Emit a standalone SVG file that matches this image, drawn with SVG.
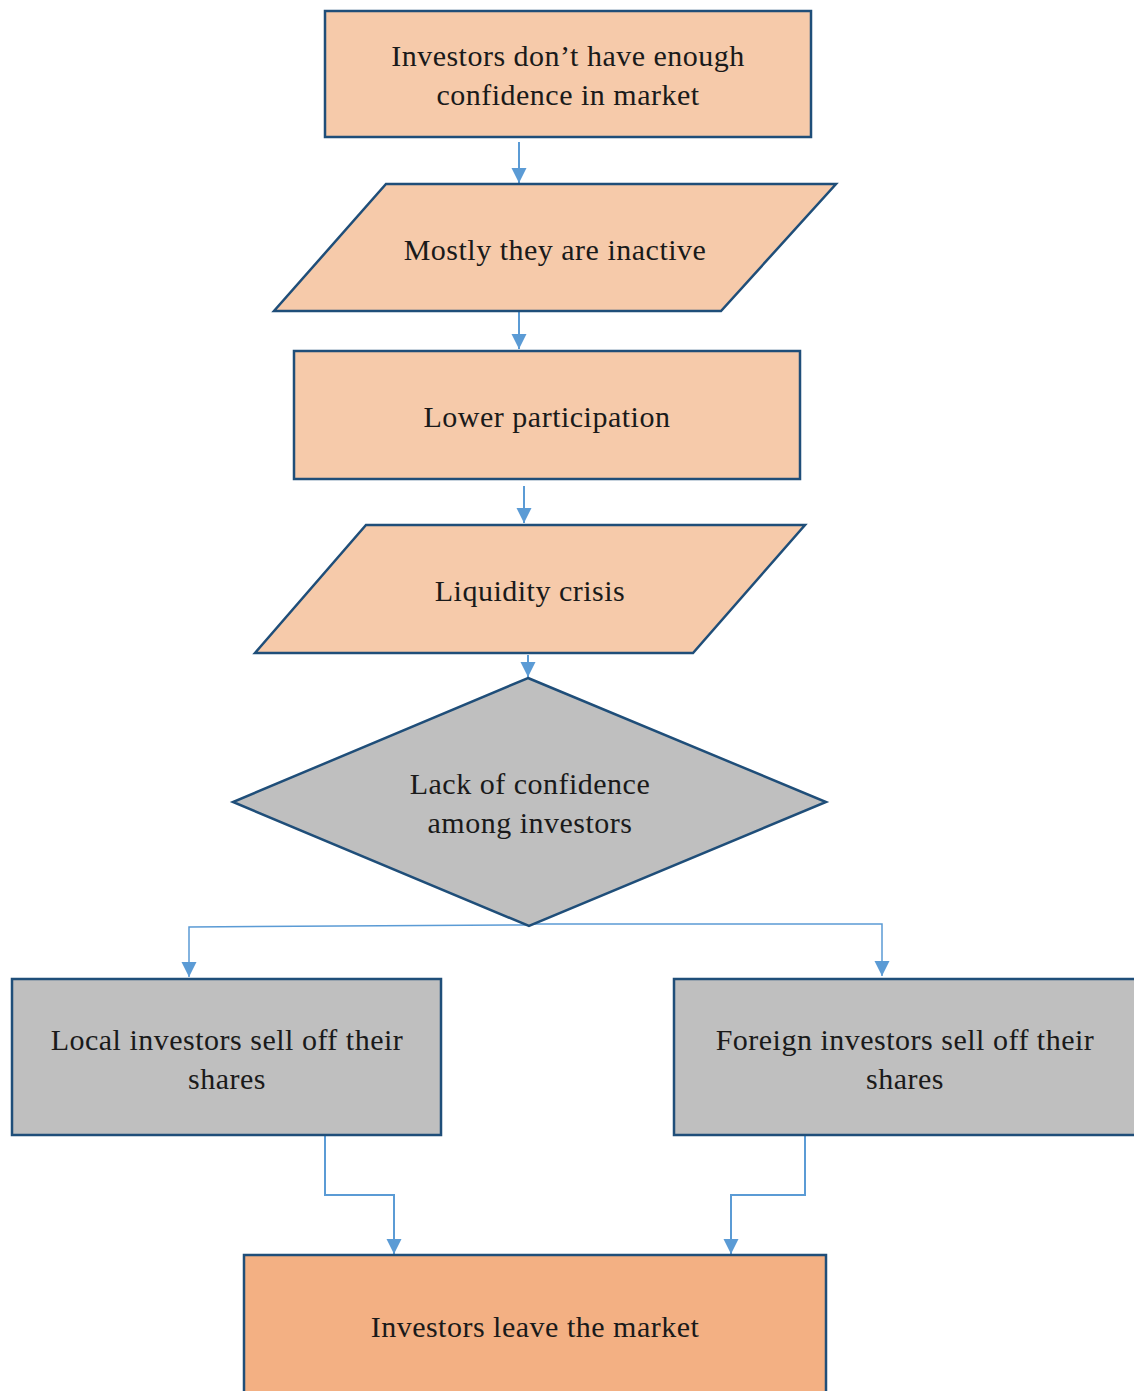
<svg xmlns="http://www.w3.org/2000/svg" width="1134" height="1391" viewBox="0 0 1134 1391">
<defs>
<style>
.peach{fill:#F6CAAA;stroke:#1F4E79;stroke-width:2.5}
.gray{fill:#BFBFBF;stroke:#1F4E79;stroke-width:2.5}
.orange{fill:#F3B083;stroke:#1F4E79;stroke-width:2.5}
.t{font-family:"Liberation Serif","DejaVu Serif",serif;font-size:30px;letter-spacing:0.5px;fill:#1a1a1a;text-anchor:middle}
.c{fill:none;stroke:#5B9BD5;stroke-width:2}
.cb{fill:none;stroke:#5B9BD5;stroke-width:1.5}
</style>
<marker id="ah" markerUnits="userSpaceOnUse" markerWidth="18" markerHeight="18" refX="15" refY="7.5" orient="auto">
<path d="M0,0 L15,7.5 L0,15 Z" fill="#5B9BD5"/>
</marker>
</defs>
<g id="connectors">
<path class="c" d="M519,142 V183" marker-end="url(#ah)"/>
<path class="c" d="M519,311 V349" marker-end="url(#ah)"/>
<path class="c" d="M524,486 V523" marker-end="url(#ah)"/>
<path class="c" d="M528,655 V677" marker-end="url(#ah)"/>
<path class="cb" d="M529,925 L189,927 V977" marker-end="url(#ah)"/>
<path class="cb" d="M529,924 H882 V976" marker-end="url(#ah)"/>
<path class="c" d="M325,1136 V1195 H394 V1254" marker-end="url(#ah)"/>
<path class="c" d="M805,1136 V1195 H731 V1254" marker-end="url(#ah)"/>
</g>
<g id="n1">
<rect class="peach" x="325" y="11" width="486" height="126"/>
<text class="t" x="568" y="66">Investors don’t have enough</text>
<text class="t" x="568" y="105">confidence in market</text>
</g>
<g id="n2">
<polygon class="peach" points="386,184 836,184 721,311 274,311"/>
<text class="t" x="555" y="260">Mostly they are inactive</text>
</g>
<g id="n3">
<rect class="peach" x="294" y="351" width="506" height="128"/>
<text class="t" x="547" y="427">Lower participation</text>
</g>
<g id="n4">
<polygon class="peach" points="366,525 805,525 693,653 255,653"/>
<text class="t" x="530" y="601">Liquidity crisis</text>
</g>
<g id="n5">
<polygon class="gray" points="528,678 826,802 529,926 233,802"/>
<text class="t" x="530" y="794">Lack of confidence</text>
<text class="t" x="530" y="833">among investors</text>
</g>
<g id="n6">
<rect class="gray" x="12" y="979" width="429" height="156"/>
<text class="t" x="227" y="1050">Local investors sell off their</text>
<text class="t" x="227" y="1089">shares</text>
</g>
<g id="n7">
<rect class="gray" x="674" y="979" width="470" height="156"/>
<text class="t" x="905" y="1050">Foreign investors sell off their</text>
<text class="t" x="905" y="1089">shares</text>
</g>
<g id="n8">
<rect class="orange" x="244" y="1255" width="582" height="150"/>
<text class="t" x="535" y="1337">Investors leave the market</text>
</g>
</svg>
